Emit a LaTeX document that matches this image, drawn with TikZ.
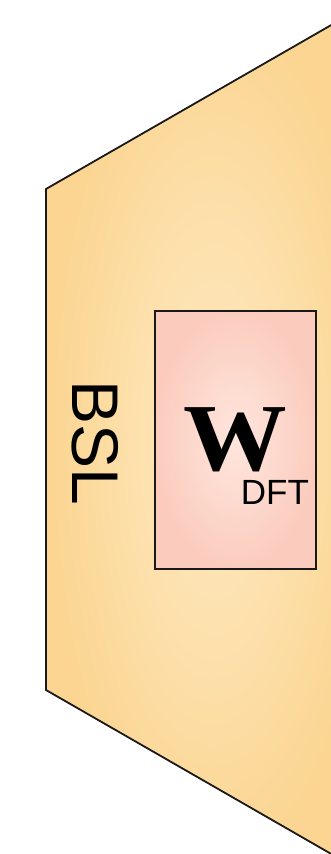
\documentclass[tikz,border=0pt]{standalone}
\usepackage{fontspec}
\setmainfont{Liberation Sans}
\newfontfamily\wfont{Liberation Serif}
\definecolor{bslin}{RGB}{254,234,196}
\definecolor{bslout}{RGB}{251,213,145}
\definecolor{win}{RGB}{255,230,222}
\definecolor{wout}{RGB}{251,204,190}
\tikzset{
  outline/.style={draw=black!90, line width=1.8pt, line join=miter},
}
\begin{document}
\begin{tikzpicture}[x=1pt,y=-1pt]
\useasboundingbox (0,0) rectangle (331,854);
\clip (0,0) rectangle (331,854);
\coordinate (tr) at (380,-3);
\coordinate (tl) at (46,189);
\coordinate (bl) at (46,690);
\coordinate (br) at (380,882);
\path[outline, inner color=bslin, outer color=bslout] (tr) -- (tl) -- (bl) -- (br) -- cycle;
\node[outline, inner color=win, outer color=wout, minimum width=161pt, minimum height=258pt, inner sep=0pt] (wbox) at (235.5,440) {};
\node[anchor=base west, inner sep=0pt] (w) at (183,470)
  {\scalebox{1.08}[1]{\wfont\bfseries\fontsize{96}{96}\selectfont W}\kern-46pt\raisebox{-34pt}{\fontsize{35}{35}\selectfont DFT}};
\node[rotate=-90, anchor=base west, inner sep=0pt, font=\fontsize{66}{66}\selectfont] (bsl) at (72,380) {BSL};
\end{tikzpicture}
\end{document}
